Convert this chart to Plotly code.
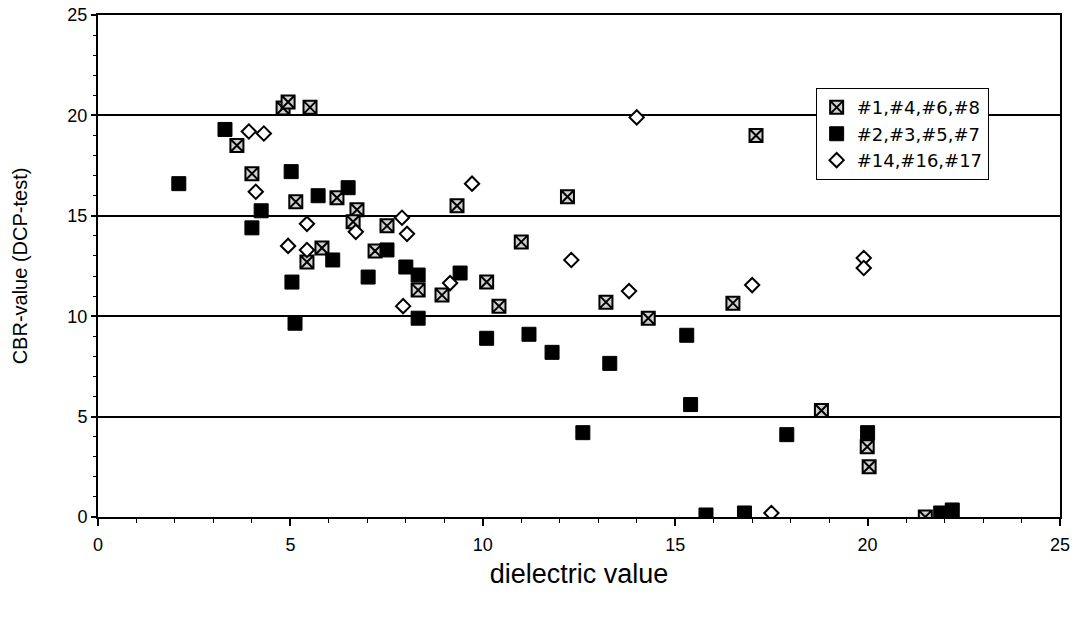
import plotly.graph_objects as go

# Series 1: #1,#4,#6,#8 (hatched squares)
s1_x = [4.81, 4.94, 5.51, 3.61, 4.0, 5.14, 6.21, 6.73, 6.63, 7.51, 5.82, 5.43, 7.2, 8.32, 8.94,
        9.33, 12.2, 17.1, 11.0, 10.1, 10.42, 13.2, 14.3, 16.5, 18.8, 19.99, 20.04, 21.5]
s1_y = [20.37, 20.67, 20.4, 18.5, 17.1, 15.7, 15.9, 15.3, 14.7, 14.5, 13.4, 12.7, 13.25, 11.3, 11.05,
        15.5, 15.95, 19.0, 13.7, 11.7, 10.5, 10.7, 9.9, 10.65, 5.3, 3.5, 2.5, 0.0]

# Series 2: #2,#3,#5,#7 (black squares)
s2_x = [2.1, 3.3, 5.02, 4.24, 4.0, 5.72, 6.5, 6.1, 7.51, 5.04, 7.02, 8.0, 8.32, 5.12, 8.32,
        9.41, 10.1, 11.2, 11.8, 13.3, 15.3, 15.4, 12.6, 15.8, 16.8, 17.9, 20.0, 21.9, 22.2]
s2_y = [16.6, 19.3, 17.2, 15.25, 14.4, 16.0, 16.4, 12.8, 13.3, 11.7, 11.95, 12.45, 12.05, 9.65, 9.9,
        12.15, 8.9, 9.1, 8.2, 7.65, 9.05, 5.6, 4.2, 0.1, 0.2, 4.1, 4.2, 0.2, 0.35]

# Series 3: #14,#16,#17 (open diamonds)
s3_x = [3.92, 4.31, 4.1, 5.43, 4.94, 5.43, 6.7, 7.9, 8.03, 7.93, 9.15,
        9.72, 14.0, 12.3, 13.8, 17.0, 17.5, 19.9, 19.9]
s3_y = [19.2, 19.1, 16.2, 14.6, 13.5, 13.3, 14.2, 14.9, 14.1, 10.5, 11.65,
        16.6, 19.9, 12.8, 11.25, 11.55, 0.2, 12.9, 12.4]

names = ["#1,#4,#6,#8", "#2,#3,#5,#7", "#14,#16,#17"]
x_ticks = [0, 5, 10, 15, 20, 25]
y_ticks = [0, 5, 10, 15, 20, 25]

fig = go.Figure()
fig.add_trace(go.Scatter(
    x=s1_x, y=s1_y, mode="markers", name=names[0],
    marker=dict(symbol="square-x", size=13, color="#d0d0d0",
                line=dict(color="black", width=2)),
))
fig.add_trace(go.Scatter(
    x=s2_x, y=s2_y, mode="markers", name=names[1],
    marker=dict(symbol="square", size=14, color="black",
                line=dict(color="black", width=1)),
))
fig.add_trace(go.Scatter(
    x=s3_x, y=s3_y, mode="markers", name=names[2],
    marker=dict(symbol="diamond", size=11, color="white",
                line=dict(color="black", width=2)),
))

fig.update_layout(
    width=1079, height=617,
    margin=dict(l=98, r=19, t=15, b=100),
    paper_bgcolor="white", plot_bgcolor="white",
    font=dict(family="Liberation Sans, Arial, sans-serif", color="black", size=17),
    showlegend=True,
    legend=dict(
        x=0.746, y=0.671, xanchor="left", yanchor="bottom",
        bgcolor="white", bordercolor="black", borderwidth=1,
        font=dict(size=18, family="DejaVu Sans, Liberation Sans, Arial"),
        tracegroupgap=0, itemwidth=30,
    ),
)
fig.update_xaxes(
    range=[0, 25], tickvals=x_ticks, ticktext=[str(v) for v in x_ticks],
    automargin=False, ticklabeloverflow="allow", ticklabelstandoff=3,
    showgrid=False, zeroline=False,
    showline=True, linecolor="black", linewidth=2, mirror=True,
    ticks="outside", ticklen=7, tickwidth=2, tickcolor="black",
    minor=dict(dtick=1, ticks="outside", ticklen=4, tickcolor="black", tickwidth=1),
    tickfont=dict(size=18, family="Liberation Sans Narrow, Liberation Sans, Arial"),
    title=dict(text="dielectric value", standoff=11,
               font=dict(size=27, family="Liberation Sans, Arial")),
)
fig.update_yaxes(
    range=[0, 25], tickvals=y_ticks, ticktext=[str(v) for v in y_ticks],
    automargin=False, ticklabeloverflow="allow",
    showgrid=True, gridcolor="black", gridwidth=1.5, zeroline=False,
    showline=True, linecolor="black", linewidth=2, mirror=True,
    ticks="outside", ticklen=5, tickwidth=1.5, tickcolor="black",
    minor=dict(dtick=1, ticks="outside", ticklen=3, tickcolor="black", tickwidth=1),
    tickfont=dict(size=18),
    title=dict(text="CBR-value (DCP-test)", standoff=34,
               font=dict(size=20)),
)

fig.write_html("out.html", config={"displayModeBar": False},
               post_script="document.body.style.margin='0';")
